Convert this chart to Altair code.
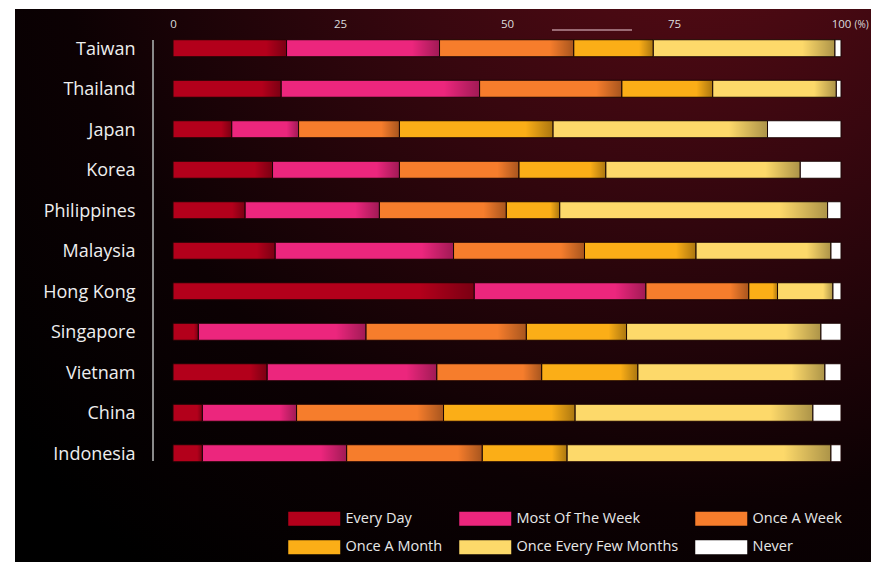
import altair as alt
import pandas as pd

countries = ["Taiwan", "Thailand", "Japan", "Korea", "Philippines", "Malaysia",
             "Hong Kong", "Singapore", "Vietnam", "China", "Indonesia"]
categories = ["Every Day", "Most Of The Week", "Once A Week", "Once A Month",
              "Once Every Few Months", "Never"]
colors = ["#b3001b", "#ec267d", "#f67d2c", "#fbae17", "#fdd96a", "#ffffff"]

every_day  = [17.0, 16.2,  8.8, 14.9, 10.8, 15.3, 45.1,  3.8, 14.1,  4.4,  4.4]
most_week  = [22.9, 29.7, 10.0, 19.0, 20.1, 26.7, 25.7, 25.1, 25.4, 14.1, 21.6]
once_week  = [20.1, 21.3, 15.1, 17.9, 19.0, 19.6, 15.4, 24.0, 15.7, 22.0, 20.3]
once_month = [11.9, 13.6, 23.0, 13.0,  8.0, 16.7,  4.3, 15.0, 14.4, 19.7, 12.7]
few_months = [27.2, 18.5, 32.1, 29.1, 40.1, 20.2,  8.3, 29.1, 28.0, 35.6, 39.5]
never      = [ 0.9,  0.7, 11.0,  6.1,  2.0,  1.5,  1.2,  3.0,  2.4,  4.2,  1.5]

tick_values = [0, 25, 50, 75, 100]

series = [every_day, most_week, once_week, once_month, few_months, never]
rows = []
for ci, c in enumerate(countries):
    for k, cat in enumerate(categories):
        rows.append({"country": c, "category": cat, "value": series[k][ci], "order": k})
df = pd.DataFrame(rows)

FONT = "Open Sans"

base = alt.Chart(df).encode(
    y=alt.Y("country:N", sort=countries,
            scale=alt.Scale(paddingInner=0.58, paddingOuter=0.29),
            axis=alt.Axis(title=None, domain=False, ticks=False, labelPadding=38,
                          labelFontSize=18, labelColor="#eeeeee", labelFont=FONT,
                          labelOffset=1.5, zindex=1)),
    x=alt.X("value:Q", stack="zero",
            scale=alt.Scale(domain=[0, 100], nice=False),
            axis=alt.Axis(orient="top", values=tick_values, title="(%)",
                          titleX=681, titleY=-1, titleAlign="left",
                          titleBaseline="alphabetic", titleFontSize=10,
                          titleFontWeight="normal", titleColor="#dddddd", titleFont=FONT,
                          domain=False, ticks=False, tickSize=0, grid=False,
                          labelFlush=False, labelOverlap=False,
                          labelPadding=1, labelFontSize=11.5, labelColor="#dddddd",
                          labelFont=FONT, labelBaseline="alphabetic", zindex=1)),
    order=alt.Order("order:Q"),
)

bars = base.mark_bar(stroke="#1c0505", strokeWidth=1).encode(
    color=alt.Color("category:N", scale=alt.Scale(domain=categories, range=colors),
                    legend=alt.Legend(orient="none", legendX=134, legendY=483,
                                      direction="horizontal", columns=3, title=None,
                                      symbolType="M-3.714,-1H3.714V1H-3.714Z", symbolSize=196,
                                      symbolStrokeWidth=0, symbolOpacity=1,
                                      labelFontSize=14.5, labelColor="#e8e8e8",
                                      labelFont=FONT, labelLimit=300,
                                      columnPadding=16, rowPadding=13,
                                      labelOffset=24, padding=0, zindex=1))
)

shade = base.mark_bar(
    fill=alt.LinearGradient(
        gradient="linear",
        stops=[alt.GradientStop(color="rgba(0,0,0,0)", offset=0),
               alt.GradientStop(color="rgba(0,0,0,0)", offset=0.82),
               alt.GradientStop(color="rgba(0,0,0,0.32)", offset=1)],
        x1=0, x2=1, y1=0, y2=0)
).encode(
    opacity=alt.condition("datum.category == 'Never'", alt.value(0), alt.value(1))
)

bg = alt.Chart(pd.DataFrame({"a": [0]})).mark_rect(
    fill=alt.RadialGradient(
        gradient="radial",
        stops=[alt.GradientStop(color="#5e0c16", offset=0),
               alt.GradientStop(color="#38070f", offset=0.35),
               alt.GradientStop(color="#0c0103", offset=0.72),
               alt.GradientStop(color="#000000", offset=1)],
        x1=0.8, y1=0, r1=0, x2=0.8, y2=0, r2=1.05)
).encode(x=alt.value(-158), x2=alt.value(698), y=alt.value(-19), y2=alt.value(534))

axis_line = alt.Chart(pd.DataFrame({"a": [0]})).mark_rule(color="#8a8a8a", strokeWidth=2).encode(
    x=alt.value(-20), y=alt.value(12), y2=alt.value(433))

slider_line = alt.Chart(pd.DataFrame({"a": [0]})).mark_rule(color="#9a6a74", strokeWidth=2).encode(
    x=alt.value(379), x2=alt.value(459), y=alt.value(2))

chart = alt.layer(bg, axis_line, slider_line, bars, shade).properties(
    width=668, height=445.5,
    padding={"left": 173, "top": 28, "right": 30, "bottom": 88},
    autosize=alt.AutoSizeParams(type="none"),
).configure_view(strokeWidth=0).configure(background="white")

chart.save("out.html", embed_options={"renderer": "svg", "actions": False})
